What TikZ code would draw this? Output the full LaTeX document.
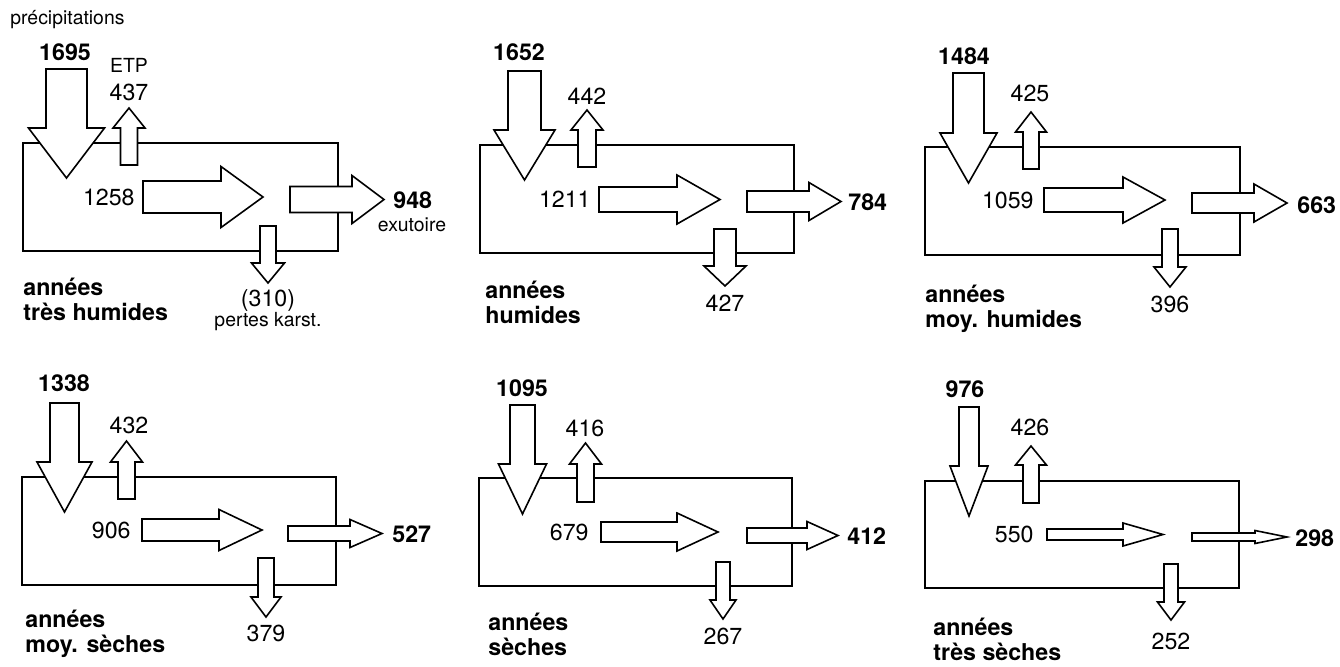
\documentclass[tikz,border=0pt]{standalone}
\usepackage{fontspec}
\setmainfont{TeX Gyre Heros}
\tikzset{
  bassin/.style={draw, line width=0.8pt},
  fleche/.style={draw, fill=white, line width=0.8pt, line join=miter},
  val/.style={font=\fontsize{11.6}{13}\selectfont, inner sep=0pt},
  valg/.style={font=\fontsize{11.6}{13}\selectfont\bfseries, inner sep=0pt},
  petit/.style={font=\fontsize{9.7}{11}\selectfont, inner sep=0pt},
}
% block arrow: tail, angle, length, head length, shaft half width, head half width
\newcommand{\fleche}[6]{%
  \draw[fleche, shift={#1}, rotate=#2] (0,-#5) -- ({#3-#4},-#5) -- ({#3-#4},-#6) -- (#3,0)
    -- ({#3-#4},#6) -- ({#3-#4},#5) -- (0,#5) -- cycle;}
\begin{document}
\begin{tikzpicture}[x=0.5pt,y=-0.5pt]
\useasboundingbox (0,0) rectangle (1340,666);
% années très humides
\begin{scope}[shift={(23,143)}]
  \draw[bassin] (0,0) rectangle (315,108);
  \fleche{(43.5,-74)}{-90}{109}{50}{20.5}{38}
  \fleche{(106,22)}{90}{57}{20}{8.5}{16}
  \fleche{(120,54)}{0}{120}{42}{16}{30.5}
  \fleche{(267,56.5)}{0}{94}{32}{13}{24}
  \fleche{(245,83)}{-90}{57}{20}{8}{16.5}
  \node[petit, anchor=west] (t1) at (-13,-123) {précipitations};
  \node[valg] (p1) at (42,-91) {1695};
  \node[petit] (m1) at (106,-78) {ETP};
  \node[val] (e1) at (106,-51) {437};
  \node[val, anchor=east] (i1) at (112,54) {1258};
  \node[valg, anchor=west] (s1) at (370,57) {948};
  \node[petit] (x1) at (389,82) {exutoire};
  \node[val] (k1) at (245,157) {(310)};
  \node[petit] (q1) at (245,179) {pertes karst.};
  \node[valg, anchor=base west] (a1) at (0,152) {années};
  \node[valg, anchor=base west] (b1) at (0,177) {très humides};
\end{scope}
% années humides
\begin{scope}[shift={(480,145)}]
  \draw[bassin] (0,0) rectangle (314,108);
  \fleche{(44.5,-74)}{-90}{109}{50}{16.5}{30.5}
  \fleche{(107,22)}{90}{57}{20}{9}{16}
  \fleche{(119,54.5)}{0}{121}{43}{12.5}{24.5}
  \fleche{(267,56.5)}{0}{94}{32}{10.5}{19}
  \fleche{(245,84)}{-90}{57}{20}{11}{21}
  \node[valg] (p2) at (39,-93) {1652};
  \node[val] (e2) at (107,-49) {442};
  \node[val, anchor=east] (i2) at (111,54.5) {1211};
  \node[valg, anchor=west] (s2) at (368,57) {784};
  \node[val] (k2) at (245,158) {427};
  \node[valg, anchor=base west] (a2) at (5,153) {années};
  \node[valg, anchor=base west] (b2) at (5,178) {humides};
\end{scope}
% années moy. humides
\begin{scope}[shift={(925,147)}]
  \draw[bassin] (0,0) rectangle (315,108);
  \fleche{(43.5,-74)}{-90}{110}{50}{15.5}{28.5}
  \fleche{(106,22)}{90}{57}{20}{8}{15.5}
  \fleche{(119,53)}{0}{121}{42}{12}{23}
  \fleche{(267,56)}{0}{95}{33}{10}{19}
  \fleche{(245,82)}{-90}{58}{20}{8}{16}
  \node[valg] (p3) at (39,-91) {1484};
  \node[val] (e3) at (105,-54) {425};
  \node[val, anchor=east] (i3) at (109,53) {1059};
  \node[valg, anchor=west] (s3) at (372,58) {663};
  \node[val] (k3) at (245,157) {396};
  \node[valg, anchor=base west] (a3) at (0,155) {années};
  \node[valg, anchor=base west] (b3) at (0,180) {moy. humides};
\end{scope}
% années moy. sèches
\begin{scope}[shift={(22,477)}]
  \draw[bassin] (0,0) rectangle (314,108);
  \fleche{(42.5,-74)}{-90}{109}{50}{14.5}{27.5}
  \fleche{(104.5,22)}{90}{58}{21}{8.5}{16}
  \fleche{(120,53)}{0}{120}{43}{11}{20.5}
  \fleche{(266,56.5)}{0}{94}{32}{7.5}{14}
  \fleche{(244,81)}{-90}{59}{20}{8}{15}
  \node[valg] (p4) at (42,-94) {1338};
  \node[val] (e4) at (107,-52) {432};
  \node[val, anchor=east] (i4) at (109,53) {906};
  \node[valg, anchor=west] (s4) at (370,57) {527};
  \node[val] (k4) at (244,156) {379};
  \node[valg, anchor=base west] (a4) at (3,150) {années};
  \node[valg, anchor=base west] (b4) at (3,175) {moy. sèches};
\end{scope}
% années sèches
\begin{scope}[shift={(479,478)}]
  \draw[bassin] (0,0) rectangle (313,108);
  \fleche{(43.5,-73)}{-90}{109}{50}{12.5}{24}
  \fleche{(106.5,24)}{90}{59}{21}{8.5}{16}
  \fleche{(122,54)}{0}{117}{41}{10}{19}
  \fleche{(268,57.5)}{0}{91}{31}{7.5}{14}
  \fleche{(244,84)}{-90}{57}{19}{7}{13}
  \node[valg] (p5) at (43,-90) {1095};
  \node[val] (e5) at (106,-50) {416};
  \node[val, anchor=east] (i5) at (110,54) {679};
  \node[valg, anchor=west] (s5) at (368,58) {412};
  \node[val] (k5) at (244,158) {267};
  \node[valg, anchor=base west] (a5) at (9,152) {années};
  \node[valg, anchor=base west] (b5) at (9,177) {sèches};
\end{scope}
% années très sèches
\begin{scope}[shift={(925,481)}]
  \draw[bassin] (0,0) rectangle (314,107);
  \fleche{(44,-74)}{-90}{109}{50}{10}{19}
  \fleche{(106,22)}{90}{57}{19}{8}{15.5}
  \fleche{(122,53.5)}{0}{116}{40}{5.5}{11.5}
  \fleche{(267,56)}{0}{95}{32}{4}{6.5}
  \fleche{(246,83)}{-90}{56}{18}{7}{13.5}
  \node[valg] (p6) at (40,-92) {976};
  \node[val] (e6) at (105,-54) {426};
  \node[val, anchor=east] (i6) at (109,53.5) {550};
  \node[valg, anchor=west] (s6) at (370,57) {298};
  \node[val] (k6) at (246,160) {252};
  \node[valg, anchor=base west] (a6) at (8,154) {années};
  \node[valg, anchor=base west] (b6) at (8,179) {très sèches};
\end{scope}
\end{tikzpicture}
\end{document}
